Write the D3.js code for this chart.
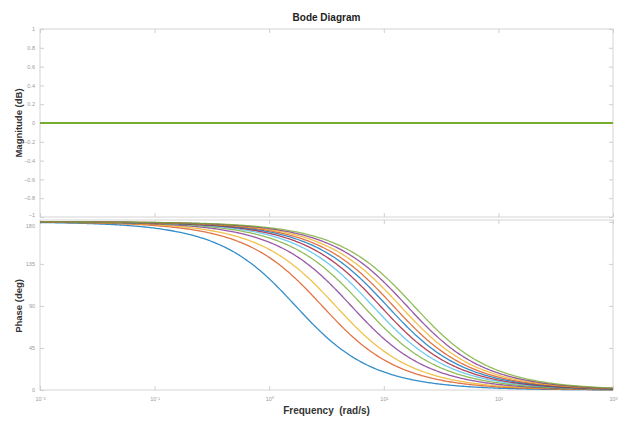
<!DOCTYPE html>
<html>
<head>
<meta charset="utf-8">
<script src="https://cdn.jsdelivr.net/npm/d3@7"></script>
<style>
  body { margin: 0; background: #fff; }
  text { font-family: "Liberation Sans", Arial, sans-serif; }
</style>
</head>
<body>
<div id="chart"></div>
<script>
// corner frequencies (rad/s) of the all-pass family, read at the 90 deg crossing
const corners = [1.7, 2.9, 3.8, 5.2, 6.6, 8.0, 9.3, 10.7, 12.1, 13.9, 15.9, 18.3];
const colors = ['#0072BD', '#D95319', '#EDB120', '#7E2F8E', '#77AC30', '#4DBEEE', '#A2142F',
  '#0072BD', '#D95319', '#EDB120', '#7E2F8E', '#77AC30'];
const magTicks = [-1, -0.8, -0.6, -0.4, -0.2, 0, 0.2, 0.4, 0.6, 0.8, 1];
const phaseTicks = [0, 45, 90, 135, 180];
const freqTicks = [1e-2, 1e-1, 1e0, 1e1, 1e2, 1e3];

const W = 627, H = 422;
const left = 40, right = 613;

const svg = d3.select("#chart").append("svg")
  .attr("width", W).attr("height", H);

// x scale shared by both panels
const x = d3.scaleLog().domain([1e-2, 1e3]).range([left, right]);

const yMag = d3.scaleLinear().domain([-1, 1]).range([217, 29]);
const yPh = d3.scaleLinear().domain([0, 182]).range([390, 220]);

// frequency grid for the response
const w = d3.range(0, 401).map(i => Math.pow(10, -2 + i * 5 / 400));

// H(s) = (s - a) / (s + a): |H| = 1, phase = 180 - 2 atan(w/a)
const series = corners.map((a, i) => ({
  color: colors[i],
  mag: w.map(f => ({ f, v: 20 * Math.log10(1) })),
  ph: w.map(f => ({ f, v: 180 - 2 * Math.atan(f / a) * 180 / Math.PI }))
}));

const sup = { '-': '\u207B', '0': '\u2070', '1': '\u00B9', '2': '\u00B2', '3': '\u00B3' };
const fmtPow = d => "10" + String(Math.round(Math.log10(d))).split('').map(c => sup[c]).join('');

function panel(y, ticks, fmt, showX) {
  const g = svg.append("g");
  // box
  g.append("rect")
    .attr("x", left).attr("y", y.range()[1])
    .attr("width", right - left).attr("height", y.range()[0] - y.range()[1])
    .attr("fill", "none").attr("stroke", "#d4d4d4").attr("stroke-width", 1);

  const yl = g.append("g").attr("transform", `translate(${left},0)`)
    .call(d3.axisLeft(y).tickValues(ticks).tickSize(-4).tickPadding(5).tickFormat(fmt));
  const yr = g.append("g").attr("transform", `translate(${right},0)`)
    .call(d3.axisRight(y).tickValues(ticks).tickSize(-4).tickFormat(""));
  const xb = g.append("g").attr("transform", `translate(0,${y.range()[0]})`)
    .call(d3.axisBottom(x).tickValues(freqTicks).tickSize(-4).tickPadding(7)
      .tickFormat(showX ? fmtPow : ""));
  const xt = g.append("g").attr("transform", `translate(0,${y.range()[1]})`)
    .call(d3.axisTop(x).tickValues(freqTicks).tickSize(-4).tickFormat(""));

  [yl, yr, xb, xt].forEach(a => {
    a.select(".domain").remove();
    a.selectAll("line").attr("stroke", "#cfcfcf");
    a.selectAll("text").attr("fill", "#9a9a9a").style("font-size", "5.5px");
  });
  return yl;
}

const magAxis = panel(yMag, magTicks, d3.format("~g"), false);
const phAxis = panel(yPh, phaseTicks, d3.format("d"), true);
// keep the -1 and 180 labels apart where the panels meet
magAxis.selectAll(".tick").filter(d => d === -1).select("text").attr("dy", "-0.1em");
phAxis.selectAll(".tick").filter(d => d === 180).select("text").attr("dy", "0.95em");

const magLine = d3.line().x(d => x(d.f)).y(d => yMag(d.v));
const phLine = d3.line().x(d => x(d.f)).y(d => yPh(d.v));

svg.append("g").selectAll("path.mag")
  .data(series).enter().append("path")
  .attr("class", "mag")
  .attr("d", d => magLine(d.mag))
  .attr("fill", "none").attr("stroke", d => d.color)
  .attr("stroke-width", 2);

svg.append("g").selectAll("path.ph")
  .data(series).enter().append("path")
  .attr("class", "ph")
  .attr("d", d => phLine(d.ph))
  .attr("fill", "none").attr("stroke", d => d.color)
  .attr("stroke-width", 1.3).attr("opacity", 0.8);

// titles
svg.append("text")
  .attr("x", (left + right) / 2).attr("y", 21)
  .attr("text-anchor", "middle")
  .style("font-size", "10px").style("font-weight", "bold").attr("fill", "#222")
  .text("Bode Diagram");

svg.append("text")
  .attr("transform", `translate(22,${yMag(0)}) rotate(-90)`)
  .attr("text-anchor", "middle")
  .style("font-size", "9.5px").style("font-weight", "bold").attr("fill", "#333")
  .text("Magnitude (dB)");

svg.append("text")
  .attr("transform", `translate(22,${yPh(90)}) rotate(-90)`)
  .attr("text-anchor", "middle")
  .style("font-size", "9.5px").style("font-weight", "bold").attr("fill", "#333")
  .text("Phase (deg)");

svg.append("text")
  .attr("x", (left + right) / 2).attr("y", 414)
  .attr("text-anchor", "middle")
  .style("font-size", "10px").style("font-weight", "bold").attr("fill", "#333")
  .attr("xml:space", "preserve")
  .text("Frequency  (rad/s)");
</script>
</body>
</html>
